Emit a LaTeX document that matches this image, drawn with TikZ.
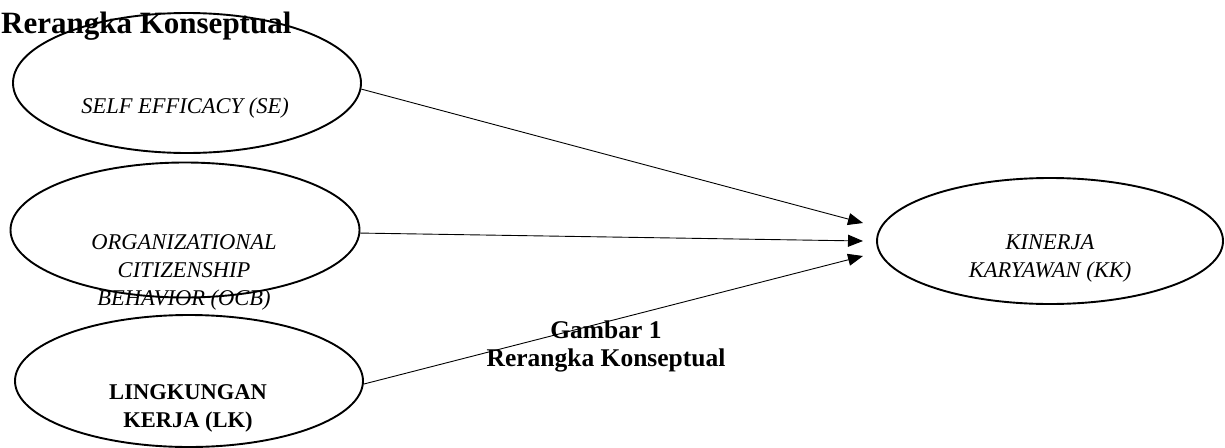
\documentclass[tikz,border=0pt]{standalone}
\usepackage{fontspec}
\setmainfont{Liberation Serif}
\usetikzlibrary{arrows.meta,shapes.geometric}
\begin{document}
\begin{tikzpicture}[x=1pt,y=-1pt,
  ell/.style={draw, line width=1.9pt, ellipse, inner sep=0pt},
  lbl/.style={inner sep=0pt, align=center, font=\fontsize{22.5}{28}\selectfont},
  conn/.style={line width=0.9pt, -{Triangle[length=15pt,width=12pt]}}]
\useasboundingbox (0,0) rectangle (1225,447);
\node[ell, minimum width=348pt, minimum height=140pt] (se) at (187,83) {};
\node[ell, minimum width=349pt, minimum height=135pt] (ocb) at (185,230) {};
\node[ell, minimum width=348pt, minimum height=132pt] (lk) at (189,381) {};
\node[ell, minimum width=346pt, minimum height=126pt] (kk) at (1050,241) {};
\node[lbl, anchor=base] (setxt) at (185,113) {\itshape SELF EFFICACY (SE)};
\node[lbl] (ocbtxt) at (184,272) {\itshape ORGANIZATIONAL\\\itshape CITIZENSHIP\\\itshape BEHAVIOR (OCB)};
\node[lbl] (lktxt) at (188,408) {\bfseries LINGKUNGAN\\\bfseries KERJA (LK)};
\node[lbl] (kktxt) at (1050,258) {\itshape KINERJA\\\itshape KARYAWAN (KK)};
\node[inner sep=0pt, anchor=base west, font=\fontsize{31}{34}\selectfont\bfseries] (title) at (1,33) {Rerangka Konseptual};
\node[inner sep=0pt, align=center, font=\fontsize{25.5}{28}\selectfont\bfseries] (cap) at (606,346) {Gambar 1\\Rerangka Konseptual};
\coordinate (t1) at (863,223);
\coordinate (t2) at (863,241);
\coordinate (t3) at (863,256);
\draw[conn] (se.-2) -- (t1);
\draw[conn] (ocb.-1) -- (t2);
\draw[conn] (lk.-1) -- (t3);
\end{tikzpicture}
\end{document}
